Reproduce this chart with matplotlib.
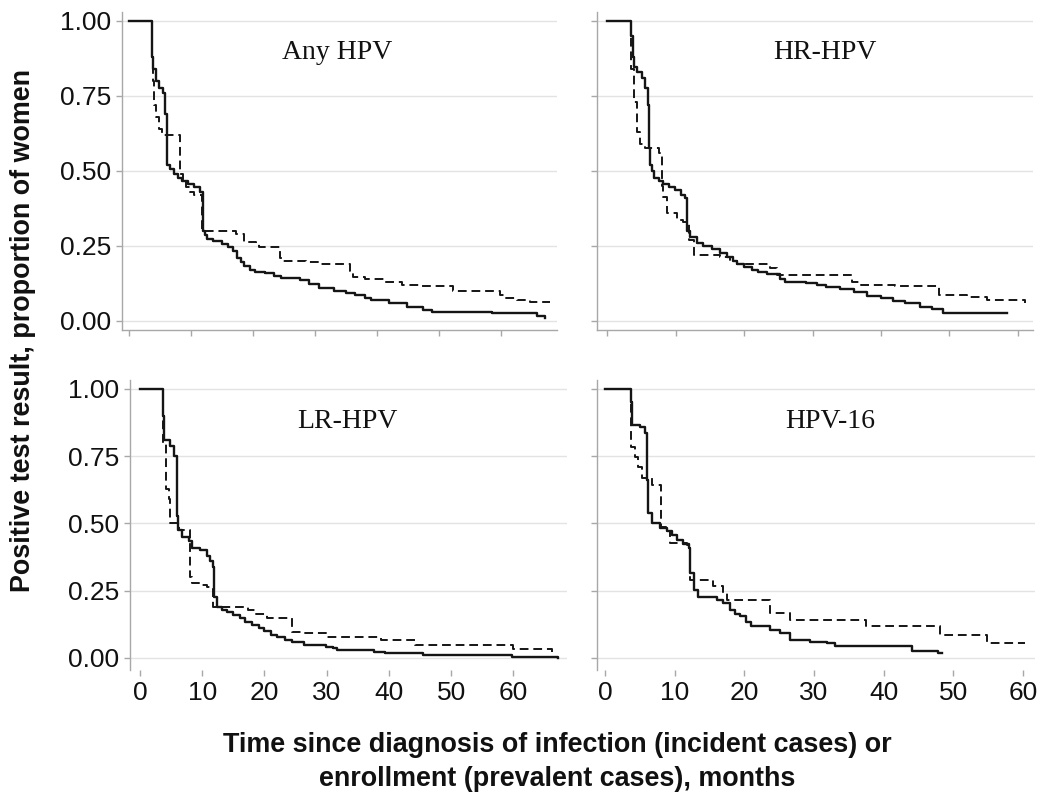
import matplotlib
matplotlib.use("Agg")
import matplotlib.pyplot as plt

# ---------------- data (Kaplan-Meier step curves) -------------
panel_titles = ["Any HPV", "HR-HPV", "LR-HPV", "HPV-16"]
y_ticks = [0.00, 0.25, 0.50, 0.75, 1.00]
y_tick_labels = ["0.00", "0.25", "0.50", "0.75", "1.00"]
x_ticks = [0, 10, 20, 30, 40, 50, 60]
x_tick_labels = ["0", "10", "20", "30", "40", "50", "60"]

# Any HPV
any_inc_t = [0, 3.7, 3.8, 3.9, 4.3, 4.9, 5.5, 5.8, 6.1, 6.6, 7.2, 7.9, 8.6, 9.5, 10.5, 11.5, 12.0, 12.3, 12.6,
             13.5, 15.0, 16.0, 16.8, 17.5, 18.0, 18.6, 19.5, 20.4, 22.0, 23.4, 24.6, 27.6, 29.0, 30.6, 33.0,
             35.0, 36.5, 38.0, 39.0, 41.9, 44.9, 47.4, 48.9, 58.6, 65.8, 67.0]
any_inc_s = [1.0, 0.93, 0.88, 0.84, 0.80, 0.775, 0.76, 0.69, 0.52, 0.505, 0.49, 0.475, 0.465, 0.455, 0.445,
             0.43, 0.30, 0.285, 0.272, 0.265, 0.255, 0.245, 0.232, 0.21, 0.195, 0.182, 0.17, 0.162, 0.158,
             0.15, 0.142, 0.135, 0.122, 0.11, 0.098, 0.092, 0.086, 0.075, 0.068, 0.058, 0.047, 0.036, 0.03,
             0.025, 0.016, 0.009]
any_prev_t = [0, 3.7, 3.9, 4.1, 4.4, 4.8, 5.3, 8.2, 8.7, 9.2, 9.8, 10.5, 11.8, 17.2, 18.6, 20.5, 21.0, 24.4,
              24.8, 28.5, 31.0, 35.6, 36.2, 38.0, 41.3, 44.0, 47.0, 52.3, 59.8, 60.6, 62.5, 64.7, 67.9]
any_prev_s = [1.0, 0.88, 0.80, 0.72, 0.68, 0.64, 0.62, 0.49, 0.465, 0.447, 0.43, 0.42, 0.30, 0.29, 0.262,
              0.255, 0.247, 0.21, 0.20, 0.195, 0.19, 0.165, 0.147, 0.14, 0.128, 0.12, 0.115, 0.10, 0.085,
              0.075, 0.068, 0.063, 0.063]

# HR-HPV
hr_inc_t = [0, 3.5, 3.7, 3.85, 4.3, 5.1, 5.55, 5.9, 6.04, 6.2, 6.5, 6.8, 7.5, 8.2, 9.0, 9.9, 10.8, 11.4, 11.6,
            12.1, 13.1, 14.0, 15.3, 16.5, 17.5, 18.3, 19.0, 20.0, 21.1, 22.0, 23.3, 25.2, 26.0, 29.1, 30.6,
            32.0, 34.0, 36.0, 37.9, 40.0, 41.8, 43.5, 45.7, 47.5, 49.1, 58.4]
hr_inc_s = [1.0, 0.95, 0.88, 0.845, 0.83, 0.81, 0.775, 0.72, 0.575, 0.52, 0.50, 0.475, 0.465, 0.455, 0.445,
            0.435, 0.42, 0.41, 0.30, 0.28, 0.258, 0.25, 0.24, 0.225, 0.213, 0.20, 0.19, 0.18, 0.169, 0.163,
            0.157, 0.14, 0.13, 0.125, 0.118, 0.113, 0.105, 0.097, 0.082, 0.075, 0.065, 0.058, 0.047, 0.038,
            0.025, 0.025]
hr_prev_t = [0, 3.5, 3.9, 4.3, 4.8, 5.55, 7.5, 7.98, 8.2, 8.7, 10.2, 11.0, 11.9, 12.6, 16.5, 18.0, 19.0, 23.8,
             24.8, 35.7, 37.0, 42.0, 48.4, 52.5, 55.5, 61.0]
hr_prev_s = [1.0, 0.84, 0.73, 0.63, 0.59, 0.575, 0.56, 0.45, 0.413, 0.36, 0.336, 0.33, 0.27, 0.22, 0.213,
             0.20, 0.19, 0.175, 0.152, 0.13, 0.119, 0.115, 0.086, 0.08, 0.069, 0.06]

# LR-HPV
lr_inc_t = [0, 3.7, 3.85, 4.9, 5.5, 5.95, 6.1, 6.7, 7.9, 8.4, 9.6, 10.8, 11.3, 11.7, 11.9, 12.3, 13.2, 14.0,
            15.0, 16.0, 16.8, 18.0, 19.2, 20.0, 21.0, 22.0, 23.3, 24.5, 26.3, 29.9, 31.0, 31.7, 37.6, 39.4,
            45.5, 59.7, 67.2]
lr_inc_s = [1.0, 0.90, 0.81, 0.786, 0.749, 0.526, 0.475, 0.45, 0.433, 0.408, 0.402, 0.377, 0.36, 0.339,
            0.228, 0.19, 0.178, 0.17, 0.159, 0.147, 0.135, 0.122, 0.11, 0.10, 0.085, 0.078, 0.066, 0.06,
            0.048, 0.042, 0.036, 0.029, 0.023, 0.017, 0.011, 0.005, 0.0]
lr_prev_t = [0, 3.7, 4.2, 4.6, 4.9, 6.2, 8.0, 8.4, 9.5, 10.8, 11.7, 17.4, 18.6, 20.4, 24.5, 26.3, 29.9, 38.8,
             44.2, 60.0, 66.2]
lr_prev_s = [1.0, 0.80, 0.626, 0.589, 0.503, 0.477, 0.302, 0.278, 0.27, 0.265, 0.19, 0.178, 0.165, 0.147,
             0.098, 0.092, 0.079, 0.067, 0.048, 0.032, 0.022]

# HPV-16
h16_inc_t = [0, 3.8, 3.9, 5.0, 5.7, 6.07, 6.2, 6.7, 7.9, 8.85, 9.6, 10.3, 11.2, 12.0, 12.2, 12.7, 13.4, 16.0,
             17.0, 17.9, 18.6, 19.4, 20.2, 21.0, 23.7, 25.1, 26.5, 29.4, 31.8, 33.0, 44.0, 47.8, 48.3]
h16_inc_s = [1.0, 0.95, 0.866, 0.86, 0.835, 0.66, 0.537, 0.50, 0.482, 0.47, 0.457, 0.438, 0.425, 0.408,
             0.315, 0.253, 0.228, 0.215, 0.203, 0.179, 0.165, 0.154, 0.135, 0.117, 0.105, 0.092, 0.067, 0.06,
             0.055, 0.045, 0.024, 0.018, 0.018]
h16_prev_t = [0, 3.8, 4.3, 4.8, 5.3, 6.7, 8.1, 8.8, 9.3, 11.7, 12.2, 15.5, 17.0, 17.5, 23.7, 26.5, 37.5, 48.1,
              54.8, 60.3]
h16_prev_s = [1.0, 0.785, 0.748, 0.711, 0.667, 0.643, 0.488, 0.47, 0.426, 0.42, 0.29, 0.266, 0.24, 0.216,
              0.166, 0.142, 0.117, 0.086, 0.055, 0.055]

# ---------------- figure ----------------
W, H = 1050, 798
fig = plt.figure(figsize=(W / 100, H / 100), dpi=100)
fig.patch.set_facecolor("white")

SANS = ["Liberation Sans", "DejaVu Sans"]
SERIF = ["Liberation Serif", "DejaVu Serif"]


def px_axes(x0, x1, ytop, ybot):
    return fig.add_axes([x0 / W, 1 - ybot / H, (x1 - x0) / W, (ybot - ytop) / H])


panels = [
    dict(box=(122, 557, 12, 330), xlim=(-1.1, 69.0), ylim=(-0.031, 1.029), top=True, left=True,
         title_xy=(33.5, 0.895), inc=(any_inc_t, any_inc_s), prev=(any_prev_t, any_prev_s)),
    dict(box=(597, 1033, 12, 330), xlim=(-1.5, 62.2), ylim=(-0.031, 1.029), top=True, left=False,
         title_xy=(31.8, 0.895), inc=(hr_inc_t, hr_inc_s), prev=(hr_prev_t, hr_prev_s)),
    dict(box=(130, 567, 380, 670), xlim=(-1.6, 68.6), ylim=(-0.045, 1.033), top=False, left=True,
         title_xy=(33.4, 0.877), inc=(lr_inc_t, lr_inc_s), prev=(lr_prev_t, lr_prev_s)),
    dict(box=(597, 1035, 380, 670), xlim=(-1.15, 61.7), ylim=(-0.045, 1.033), top=False, left=False,
         title_xy=(32.3, 0.877), inc=(h16_inc_t, h16_inc_s), prev=(h16_prev_t, h16_prev_s)),
]

grid_c = "#e3e3e3"
spine_c = "#a8a8a8"
line_c = "#151515"

for title, p in zip(panel_titles, panels):
    ax = px_axes(*p["box"])
    ax.set_xlim(*p["xlim"])
    ax.set_ylim(*p["ylim"])
    for yv in y_ticks:
        ax.axhline(yv, color=grid_c, lw=1.0, zorder=0)
    ax.step(p["inc"][0], p["inc"][1], where="post", color=line_c, lw=1.7, zorder=3)
    ax.step(p["prev"][0], p["prev"][1], where="post", color=line_c, lw=1.4,
            linestyle=(0, (4.5, 2.5)), zorder=3)
    ax.text(p["title_xy"][0], p["title_xy"][1], title, ha="center", va="center",
            fontsize=20, family=SERIF, color="#111111")

    ax.spines["top"].set_visible(False)
    ax.spines["right"].set_visible(False)
    ax.spines["left"].set_color(spine_c)
    ax.spines["left"].set_linewidth(1.0)
    ax.spines["bottom"].set_color(spine_c)
    ax.spines["bottom"].set_linewidth(1.0)
    if not p["top"]:
        ax.spines["bottom"].set_visible(False)

    ax.set_yticks(y_ticks)
    ax.set_xticks(x_ticks)
    ax.tick_params(axis="both", colors=spine_c, length=4, width=1.0, direction="out")
    if p["left"]:
        ax.set_yticklabels(y_tick_labels, family=SANS, fontsize=19, color="#111111")
        ax.tick_params(axis="y", pad=4)
    else:
        ax.set_yticklabels([])
    if p["top"]:
        ax.set_xticklabels([])
    else:
        ax.set_xticklabels(x_tick_labels, family=SANS, fontsize=19, color="#111111")
        ax.tick_params(axis="x", pad=4)

fig.text(23 / W, 1 - 330 / H, "Positive test result, proportion of women", rotation=90,
         ha="center", va="center", fontsize=19.4, fontweight="bold", family=SANS, color="#111111")
fig.text(557 / W, 1 - 745 / H, "Time since diagnosis of infection (incident cases) or",
         ha="center", va="center", fontsize=19.4, fontweight="bold", family=SANS, color="#111111")
fig.text(557 / W, 1 - 779 / H, "enrollment (prevalent cases), months",
         ha="center", va="center", fontsize=19.4, fontweight="bold", family=SANS, color="#111111")

fig.savefig("out.png", dpi=100)
